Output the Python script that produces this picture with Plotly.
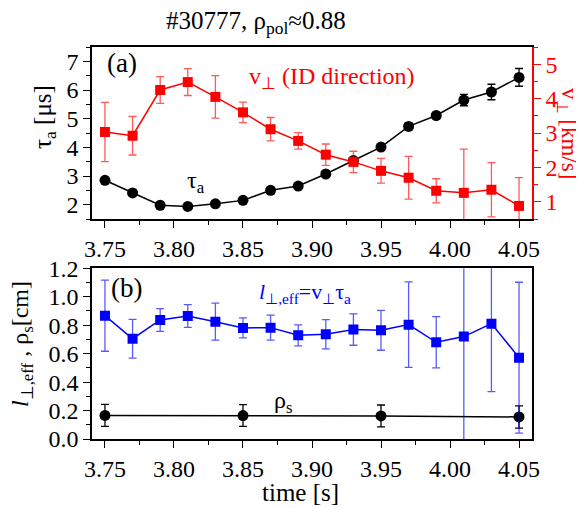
import plotly.graph_objects as go

# ---------------- data ----------------
time = [3.75, 3.77, 3.79, 3.81, 3.83, 3.85, 3.87, 3.89, 3.91, 3.93,
        3.95, 3.97, 3.99, 4.01, 4.03, 4.05]
tau_a = [2.85, 2.41, 1.98, 1.94, 2.03, 2.15, 2.50, 2.65, 3.07, 3.54,
         4.01, 4.73, 5.11, 5.65, 5.93, 6.44]
tau_a_err = [0.08, 0.08, 0.08, 0.08, 0.08, 0.08, 0.08, 0.08, 0.08, 0.08,
             0.08, 0.12, 0.08, 0.20, 0.27, 0.31]
v_perp = [3.03, 2.92, 4.25, 4.48, 4.05, 3.60, 3.11, 2.77, 2.37, 2.16,
          1.90, 1.70, 1.32, 1.26, 1.35, 0.88]
v_perp_err = [0.86, 0.56, 0.39, 0.39, 0.62, 0.30, 0.34, 0.24, 0.31, 0.31,
              0.36, 0.62, 0.35, 1.27, 0.79, 0.82]
l_eff = [0.867, 0.705, 0.837, 0.865, 0.825, 0.781, 0.783, 0.729, 0.736, 0.769,
         0.764, 0.804, 0.680, 0.720, 0.811, 0.572]
l_eff_err = [0.25, 0.136, 0.08, 0.08, 0.13, 0.07, 0.088, 0.074, 0.103, 0.11,
             0.14, 0.30, 0.18, 0.90, 0.478, 0.53]
time_rho = [3.75, 3.85, 3.95, 4.05]
rho_s = [0.166, 0.165, 0.162, 0.155]
rho_s_err = [0.077, 0.076, 0.077, 0.078]

FONT = "Liberation Serif"
OFF = 8  # default page body margin
W, H = 584 - OFF, 508 - OFF

def px_x(x):
    return (x - OFF) / W

def px_y(y):
    return 1 - (y - OFF) / H

fig = go.Figure()

fig.add_trace(go.Scatter(
    x=time, y=tau_a, xaxis="x", yaxis="y", mode="lines+markers",
    line=dict(color="black", width=1.5),
    marker=dict(symbol="circle", size=11, color="black"),
    error_y=dict(type="data", array=tau_a_err, color="black", thickness=1.3, width=4),
    showlegend=False))

fig.add_trace(go.Scatter(
    x=time, y=v_perp, xaxis="x", yaxis="y2", mode="lines+markers",
    line=dict(color="#ff0000", width=1.5),
    marker=dict(symbol="square", size=10, color="#ff0000"),
    error_y=dict(type="data", array=v_perp_err, color="rgba(255,0,0,0.65)", thickness=1.3, width=4),
    showlegend=False))

fig.add_trace(go.Scatter(
    x=time_rho, y=rho_s, xaxis="x2", yaxis="y3", mode="lines+markers",
    line=dict(color="black", width=1.5),
    marker=dict(symbol="circle", size=11, color="black"),
    error_y=dict(type="data", array=rho_s_err, color="black", thickness=1.3, width=4),
    showlegend=False))

fig.add_trace(go.Scatter(
    x=time, y=l_eff, xaxis="x2", yaxis="y3", mode="lines+markers",
    line=dict(color="#0000ff", width=1.5),
    marker=dict(symbol="square", size=10, color="#0000ff"),
    error_y=dict(type="data", array=l_eff_err, color="rgba(0,0,255,0.65)", thickness=1.3, width=4),
    showlegend=False))

xdom = [px_x(92), px_x(532)]
top_dom = [px_y(219), px_y(47)]
bot_dom = [px_y(439), px_y(268.3)]
xr = [3.7406, 4.0594]
TICK = 24
tickfont = dict(family=FONT, size=TICK, color="black")

xcommon = dict(domain=xdom, range=xr, tick0=3.75, dtick=0.05, tickformat=".2f",
               ticks="outside", ticklen=7, tickwidth=1.3, tickcolor="black",
               minor=dict(tick0=3.75, dtick=0.025, ticks="outside", ticklen=4,
                          tickwidth=1.3, tickcolor="black"),
               showline=True, linecolor="black", linewidth=1.5, mirror=True,
               showgrid=False, zeroline=False, tickfont=tickfont, automargin=False)

fig.update_layout(
    template="none",
    width=W, height=H, autosize=False,
    margin=dict(l=0, r=0, t=0, b=0, pad=0),
    paper_bgcolor="white", plot_bgcolor="white",
    font=dict(family=FONT, size=TICK, color="black"),
    xaxis=dict(anchor="y", **xcommon),
    xaxis2=dict(anchor="y3", **xcommon),
    yaxis=dict(domain=top_dom, anchor="x", range=[1.5, 7.5], tick0=0, dtick=1,
               ticks="outside", ticklen=7, tickwidth=1.3, tickcolor="black",
               minor=dict(dtick=0.5, ticks="outside", ticklen=4, tickwidth=1.3, tickcolor="black"),
               showline=True, linecolor="black", linewidth=1.5,
               showgrid=False, zeroline=False, tickfont=tickfont, automargin=False),
    yaxis2=dict(overlaying="y", side="right", anchor="x", range=[0.5, 5.5], tick0=0, dtick=1,
                ticks="outside", ticklen=7, tickwidth=1.3, tickcolor="#ff0000",
                minor=dict(dtick=0.5, ticks="outside", ticklen=4, tickwidth=1.3, tickcolor="#ff0000"),
                showline=True, linecolor="#ff0000", linewidth=1.5,
                showgrid=False, zeroline=False, automargin=False,
                tickfont=dict(family=FONT, size=TICK, color="#ff0000")),
    yaxis3=dict(domain=bot_dom, anchor="x2", range=[0, 1.2001], tick0=0, dtick=0.2,
                tickformat=".1f",
                ticks="outside", ticklen=7, tickwidth=1.3, tickcolor="black",
                minor=dict(dtick=0.1, ticks="outside", ticklen=4, tickwidth=1.3, tickcolor="black"),
                showline=True, linecolor="black", linewidth=1.5, mirror=True,
                showgrid=False, zeroline=False, tickfont=tickfont, automargin=False),
)

def ann(text, x, y, size=23, color="black", angle=0, xanchor="center", yanchor="middle"):
    fig.add_annotation(text=text, x=px_x(x), y=px_y(y), xref="paper", yref="paper",
                       showarrow=False, textangle=angle, xanchor=xanchor, yanchor=yanchor,
                       font=dict(family=FONT, size=size, color=color))

# title
ann("#30777, ρ<sub>pol</sub>≈0.88", 256, 22, size=25)
# axis titles
ann("τ<sub>a</sub> [μs]", 45, 117, size=25, angle=-90)
ann("v<sub>⊥</sub> [km/s]", 568, 133, size=23, color="#ff0000", angle=90)
ann("<i>l</i><sub>⊥,eff</sub> , ρ<sub>s</sub>[cm]", 22, 344, size=24, angle=-90)
ann("time [s]", 300, 492, size=25)
# panel labels
ann("(a)", 122, 63, size=27)
ann("v<sub>⊥</sub> (ID direction)", 247, 78, size=24, color="#ff0000", xanchor="left")
ann("τ<sub>a</sub>", 185, 182, size=24, xanchor="left")
ann("(b)", 126, 288, size=27)
ann("<i>l</i><sub>⊥,eff</sub>=v<sub>⊥</sub>τ<sub>a</sub>", 257, 293, size=22, color="#0000ff", xanchor="left")
ann("ρ<sub>s</sub>", 272, 402, size=24, xanchor="left")

fig.write_html("out.html")
